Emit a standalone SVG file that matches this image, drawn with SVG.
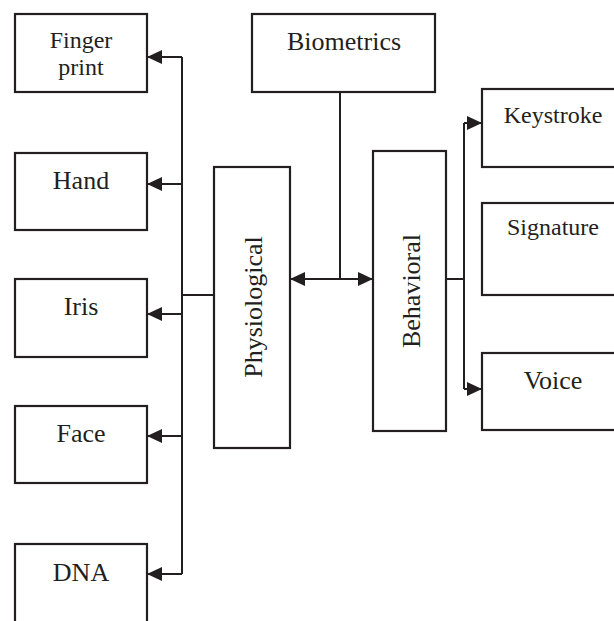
<svg xmlns="http://www.w3.org/2000/svg" width="614" height="621" viewBox="0 0 614 621">
<style>
.box{fill:#fff;stroke:#231f20;stroke-width:2.2}
.t{font-family:"Liberation Serif","Times New Roman",serif;font-size:26px;fill:#231f20;text-anchor:middle}
.s{font-size:24px}
.c{fill:none;stroke:#231f20;stroke-width:2}
</style>
<defs>
<marker id="ah" viewBox="0 0 15 14" refX="15" refY="7" markerWidth="15" markerHeight="14" markerUnits="userSpaceOnUse" orient="auto-start-reverse">
<path d="M0,0 L15,7 L0,14 z" fill="#231f20"/>
</marker>
</defs>
<rect width="614" height="621" fill="#fff"/>
<g id="connectors">
<line class="c" x1="182" y1="57" x2="182" y2="574"/>
<line class="c" x1="182" y1="57" x2="147" y2="57" marker-end="url(#ah)"/>
<line class="c" x1="182" y1="184" x2="147" y2="184" marker-end="url(#ah)"/>
<line class="c" x1="182" y1="314" x2="147" y2="314" marker-end="url(#ah)"/>
<line class="c" x1="182" y1="436" x2="147" y2="436" marker-end="url(#ah)"/>
<line class="c" x1="182" y1="574" x2="147" y2="574" marker-end="url(#ah)"/>
<line class="c" x1="214" y1="295" x2="182" y2="295"/>
<line class="c" x1="340" y1="92" x2="340" y2="279"/>
<line class="c" x1="290" y1="279" x2="373" y2="279" marker-start="url(#ah)" marker-end="url(#ah)"/>
<line class="c" x1="446" y1="279" x2="464" y2="279"/>
<line class="c" x1="464" y1="123" x2="464" y2="389"/>
<line class="c" x1="464" y1="123" x2="482" y2="123" marker-end="url(#ah)"/>
<line class="c" x1="464" y1="389" x2="482" y2="389" marker-end="url(#ah)"/>
</g>
<g id="fingerprint"><rect class="box" x="15" y="14" width="132" height="78"/><text class="t s" x="81" y="48">Finger</text><text class="t s" x="81" y="75">print</text></g>
<g id="hand"><rect class="box" x="15" y="153" width="132" height="77"/><text class="t" x="81" y="189">Hand</text></g>
<g id="iris"><rect class="box" x="15" y="279" width="132" height="78"/><text class="t" x="81" y="315">Iris</text></g>
<g id="face"><rect class="box" x="15" y="406" width="132" height="77"/><text class="t" x="81" y="442">Face</text></g>
<g id="dna"><rect class="box" x="15" y="544" width="132" height="90"/><text class="t" x="81" y="581">DNA</text></g>
<g id="biometrics"><rect class="box" x="252" y="14" width="183" height="78"/><text class="t" x="344" y="50">Biometrics</text></g>
<g id="physiological"><rect class="box" x="214" y="167" width="76" height="281"/><text class="t" transform="translate(262,307) rotate(-90)">Physiological</text></g>
<g id="behavioral"><rect class="box" x="373" y="151" width="73" height="280"/><text class="t" transform="translate(420,291) rotate(-90)">Behavioral</text></g>
<g id="keystroke"><rect class="box" x="482" y="89" width="140" height="78"/><text class="t s" x="553" y="123">Keystroke</text></g>
<g id="signature"><rect class="box" x="482" y="203" width="140" height="92"/><text class="t s" x="553" y="235">Signature</text></g>
<g id="voice"><rect class="box" x="482" y="353" width="140" height="77"/><text class="t" x="553" y="389">Voice</text></g>
</svg>
